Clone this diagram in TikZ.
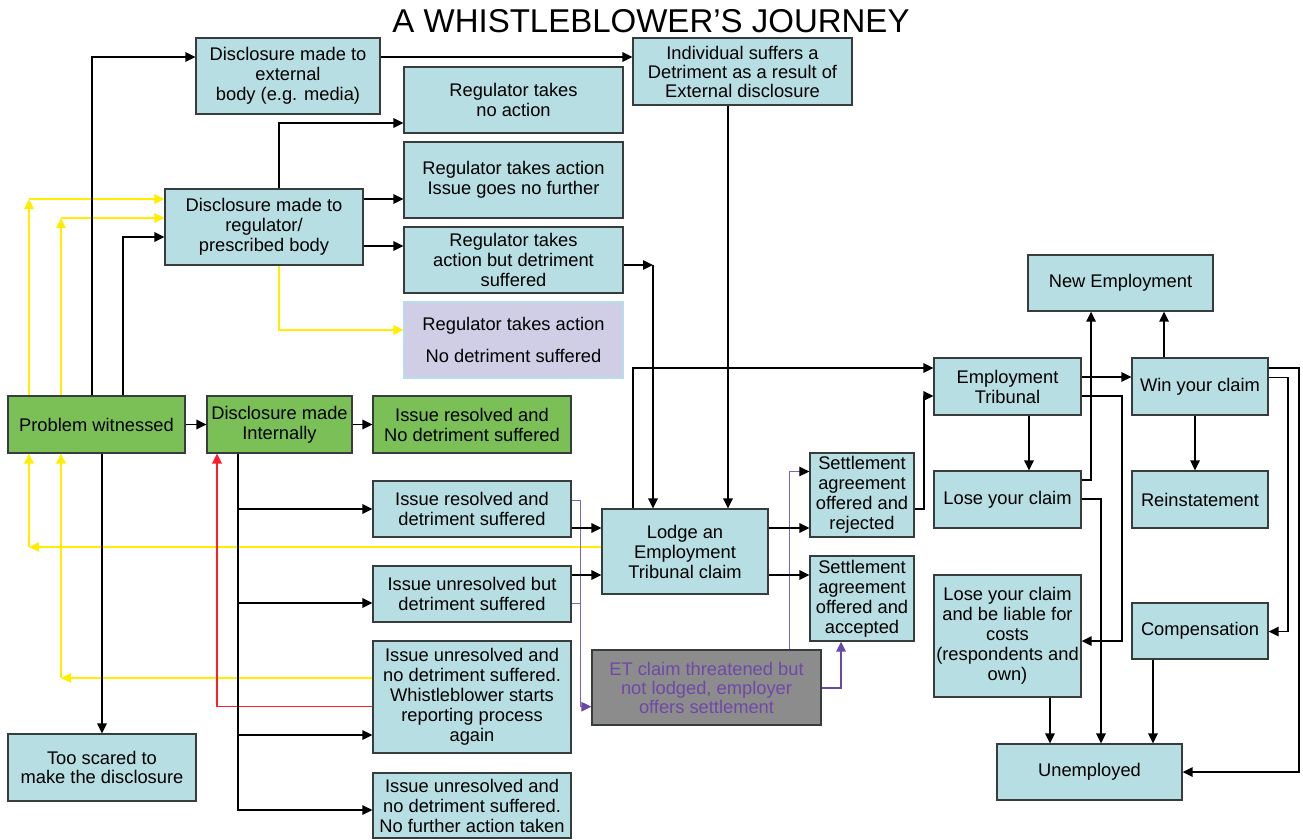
\documentclass[tikz,border=0pt]{standalone}
\usepackage{fontspec}
\setmainfont{Liberation Sans}
\usetikzlibrary{arrows.meta}
\definecolor{cyanfill}{RGB}{183,222,226}
\definecolor{greenfill}{RGB}{122,192,87}
\definecolor{lavfill}{RGB}{208,206,230}
\definecolor{lavline}{RGB}{183,222,232}
\definecolor{grayfill}{RGB}{140,140,140}
\definecolor{boxline}{RGB}{55,60,60}
\definecolor{ptext}{RGB}{112,72,168}
\definecolor{pline}{RGB}{128,100,180}
\definecolor{pdark}{RGB}{104,72,168}
\definecolor{yel}{RGB}{255,238,0}
\definecolor{redl}{RGB}{255,30,40}
\newcommand\bodyfont{\fontsize{18.3}{20}\selectfont}
\newcommand\tightfont{\fontsize{18.3}{19}\selectfont}
\newcommand\titlefont{\fontsize{33}{36}\selectfont}
\tikzset{
  box/.style={draw=boxline, line width=1.3pt, fill=cyanfill, align=center, inner sep=0pt, font=\bodyfont},
  gbox/.style={box, fill=greenfill},
  arr/.style={line width=1.5pt, draw=black, -{Triangle[length=10pt,width=9.5pt]}},
  ln/.style={line width=1.5pt, draw=black},
  yarr/.style={line width=1.5pt, draw=yel, -{Triangle[length=10pt,width=9.5pt]}},
  rarr/.style={line width=1.5pt, draw=redl, -{Triangle[length=10pt,width=9.5pt]}},
  pln/.style={line width=1pt, draw=pline},
  parr/.style={line width=1pt, draw=pline, -{Triangle[length=10pt,width=9.5pt,color=pdark]}},
  parrblk/.style={line width=1pt, draw=pline, -{Triangle[length=10pt,width=9.5pt,color=black]}},
  parrthick/.style={line width=1.5pt, draw=pdark, -{Triangle[length=10pt,width=9.5pt]}},
}
\begin{document}
\begin{tikzpicture}[x=1pt,y=-1pt]
\useasboundingbox (0,0) rectangle (1303,839);
\fill[white] (0,0) rectangle (1303,839);

% ---------- nodes ----------
\node[box, minimum width=184pt, minimum height=76pt] (ext) at (288,76) {Disclosure made to\\external\\body (e.g. media)};
\node[box, font=\tightfont, minimum width=219pt, minimum height=67pt] (indiv) at (742.5,71.5) {Individual suffers a\\Detriment as a result of\\External disclosure};
\node[box, minimum width=219pt, minimum height=66pt] (regno) at (513.5,100) {Regulator takes\\no action};
\node[box, minimum width=219pt, minimum height=76pt] (regfur) at (513.5,180) {Regulator takes action\\Issue goes no further};
\node[box, minimum width=198pt, minimum height=76pt] (regbody) at (264,227) {Disclosure made to\\regulator/\\prescribed body};
\node[box, minimum width=219pt, minimum height=66pt] (regdet) at (513.5,260) {Regulator takes\\action but detriment\\suffered};
\node[box, draw=lavline, fill=lavfill, minimum width=219pt, minimum height=76pt] (regnodet) at (513.5,340) {Regulator takes action\\[12pt]No detriment suffered};
\node[gbox, minimum width=177pt, minimum height=57pt] (pw) at (96.5,424.5) {Problem witnessed};
\node[gbox, minimum width=145pt, minimum height=57pt] (dmi) at (279.5,424.5) {Disclosure made\\Internally};
\node[gbox, minimum width=198pt, minimum height=57pt] (irnd) at (472,424.5) {Issue resolved and\\No detriment suffered};
\node[box, minimum width=198pt, minimum height=56pt] (irds) at (472,509) {Issue resolved and\\detriment suffered};
\node[box, minimum width=198pt, minimum height=56pt] (iubd) at (472,594) {Issue unresolved but\\detriment suffered};
\node[box, minimum width=198pt, minimum height=112pt] (iunda) at (472,697) {Issue unresolved and\\no detriment suffered.\\Whistleblower starts\\reporting process\\again};
\node[box, minimum width=198pt, minimum height=65pt] (iundn) at (472,805.5) {Issue unresolved and\\no detriment suffered.\\No further action taken};
\node[box, font=\tightfont, minimum width=188pt, minimum height=67pt] (scared) at (102,767.5) {Too scared to\\make the disclosure};
\node[box, minimum width=166pt, minimum height=85pt] (lodge) at (685,551.5) {Lodge an\\Employment\\Tribunal claim};
\node[box, font=\tightfont, fill=grayfill, text=ptext, minimum width=229pt, minimum height=75pt] (etct) at (706.5,687.5) {ET claim threatened but\\not lodged, employer\\offers settlement};
\node[box, minimum width=104pt, minimum height=84pt] (sr) at (862,495) {Settlement\\agreement\\offered and\\rejected};
\node[box, minimum width=104pt, minimum height=85pt] (sa) at (862,598.5) {Settlement\\agreement\\offered and\\accepted};
\node[box, minimum width=147pt, minimum height=57pt] (et) at (1007.5,386.5) {Employment\\Tribunal};
\node[box, minimum width=136pt, minimum height=57pt] (win) at (1200,386.5) {Win your claim};
\node[box, minimum width=185pt, minimum height=56pt] (newemp) at (1120.5,283) {New Employment};
\node[box, minimum width=147pt, minimum height=57pt] (lose) at (1007.5,499.5) {Lose your claim};
\node[box, minimum width=136pt, minimum height=57pt] (rein) at (1200,499.5) {Reinstatement};
\node[box, minimum width=147pt, minimum height=122pt] (losecosts) at (1007.5,636) {Lose your claim\\and be liable for\\costs\\(respondents and\\own)};
\node[box, minimum width=136pt, minimum height=56pt] (comp) at (1200,631) {Compensation};
\node[box, minimum width=185pt, minimum height=56pt] (unemp) at (1089.5,772) {Unemployed};

\node[font=\titlefont, anchor=base, inner sep=0pt] (title) at (651,32) {A WHISTLEBLOWER’S JOURNEY};

% ---------- yellow connectors ----------
\coordinate (y1) at (29,547);
\draw[yarr] (lodge.west |- y1) -- (y1);
\draw[yarr] (y1) -- (pw.south -| y1);
\coordinate (y2) at (61,678);
\draw[yarr] (iunda.west |- y2) -- (y2);
\draw[yarr] (y2) -- (pw.south -| y2);
\coordinate (y3) at (29,199);
\draw[yarr] (pw.north -| y3) -- (y3);
\draw[yarr] (y3) -- (regbody.west |- y3);
\coordinate (y4) at (61,218);
\draw[yarr] (pw.north -| y4) -- (y4);
\draw[yarr] (y4) -- (regbody.west |- y4);
\draw[yarr] (regbody.south -| 279,0) |- (regnodet.west |- 0,330);

% ---------- red connector ----------
\draw[rarr] (iunda.west |- 0,706.7) -| (dmi.south -| 217,0);

% ---------- purple connectors ----------
\draw[parr] (irds.east |- 0,500) -| (580.5,706.7) -- (etct.west |- 0,706.7);
\draw[pln] (iubd.east |- 0,603) -- (580.5,603);
\draw[parrblk] (etct.north -| 789,0) |- (sr.west |- 0,471.5);
\draw[parrthick] (etct.east |- 0,688) -| (sa.south -| 841,0);

% ---------- black connectors ----------
\draw[arr] (ext.east |- 0,57) -- (indiv.west |- 0,57);
\draw[arr] (pw.north -| 92,0) |- (ext.west |- 0,57);
\draw[arr] (pw.north -| 123,0) |- (regbody.west |- 0,237);
\draw[arr] (regbody.north -| 279,0) |- (regno.west |- 0,123);
\draw[arr] (regbody.east |- 0,199) -- (regfur.west |- 0,199);
\draw[arr] (regbody.east |- 0,246) -- (regdet.west |- 0,246);
\coordinate (c1) at (653,265);
\draw[arr] (regdet.east |- c1) -- (c1);
\draw[arr] (c1) -- (lodge.north -| c1);
\draw[arr] (indiv.south -| 728,0) -- (lodge.north -| 728,0);
\draw[arr] (pw) -- (dmi);
\draw[arr] (dmi) -- (irnd);
\draw[arr] (pw.south -| 102,0) -- (scared.north -| 102,0);
% trunk from internal disclosure
\coordinate (t1) at (238,509);
\coordinate (t2) at (238,603);
\coordinate (t3) at (238,735);
\coordinate (t4) at (238,810);
\draw[arr] (dmi.south -| t4) -- (t4) -- (iundn.west |- t4);
\draw[arr] (t1) -- (irds.west |- t1);
\draw[arr] (t2) -- (iubd.west |- t2);
\draw[arr] (t3) -- (iunda.west |- t3);
\draw[arr] (irds.east |- 0,528) -- (lodge.west |- 0,528);
\draw[arr] (iubd.east |- 0,575) -- (lodge.west |- 0,575);
\draw[arr] (lodge.north -| 633,0) |- (et.west |- 0,368);
\draw[arr] (lodge.east |- 0,528) -- (sr.west |- 0,528);
\draw[arr] (lodge.east |- 0,575) -- (sa.west |- 0,575);
\draw[arr] (sr.east |- 0,509) -| (924,396) -- (et.west |- 0,396);
\draw[arr] (et.east |- 0,377) -- (win.west |- 0,377);
\draw[arr] (et.south -| 1029,0) -- (lose.north -| 1029,0);
\draw[arr] (et.east |- 0,396) -| (1122,641) -- (losecosts.east |- 0,641);
\draw[arr] (lose.east |- 0,480) -| (newemp.south -| 1091,0);
\draw[arr] (lose.east |- 0,499) -| (unemp.north -| 1101,0);
\draw[arr] (win.north -| 1164,0) -- (newemp.south -| 1164,0);
\draw[arr] (win.south -| 1195,0) -- (rein.north -| 1195,0);
\draw[arr] (win.east |- 0,377.5) -| (1288,631.5) -- (comp.east |- 0,631.5);
\draw[arr] (win.east |- 0,368) -| (1299,772) -- (unemp.east |- 0,772);
\draw[arr] (losecosts.south -| 1050,0) -- (unemp.north -| 1050,0);
\draw[arr] (comp.south -| 1153,0) -- (unemp.north -| 1153,0);
\end{tikzpicture}
\end{document}
